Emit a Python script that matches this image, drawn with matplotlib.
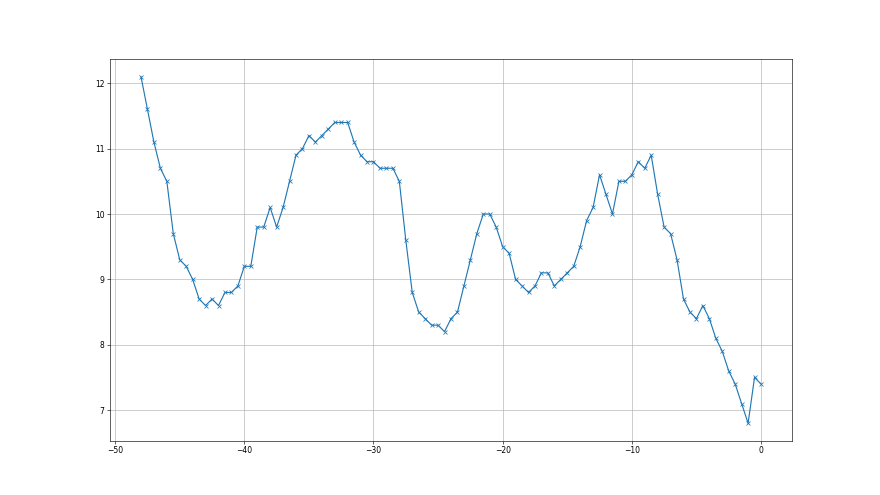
import numpy as np
import matplotlib
matplotlib.use("Agg")
import matplotlib.pyplot as plt

x_start, x_stop, x_step = -48, 0, 0.5
y_values = [
    12.1, 11.6, 11.1, 10.7, 10.5, 9.7, 9.3, 9.2, 9.0, 8.7, 8.6, 8.7, 8.6, 8.8, 8.8, 8.9, 9.2,
    9.2, 9.8, 9.8, 10.1, 9.8, 10.1, 10.5, 10.9, 11.0, 11.2, 11.1, 11.2, 11.3, 11.4, 11.4, 11.4, 11.1, 10.9, 10.8, 10.8,
    10.7, 10.7, 10.7, 10.5, 9.6, 8.8, 8.5, 8.4, 8.3, 8.3, 8.2, 8.4, 8.5, 8.9, 9.3, 9.7, 10.0, 10.0, 9.8, 9.5,
    9.4, 9.0, 8.9, 8.8, 8.9, 9.1, 9.1, 8.9, 9.0, 9.1, 9.2, 9.5, 9.9, 10.1, 10.6, 10.3, 10.0, 10.5, 10.5, 10.6,
    10.8, 10.7, 10.9, 10.3, 9.8, 9.7, 9.3, 8.7, 8.5, 8.4, 8.6, 8.4, 8.1, 7.9, 7.6, 7.4, 7.1, 6.8, 7.5, 7.4,
]
x_values = np.arange(x_start, x_stop + x_step / 2, x_step)

fig, ax = plt.subplots(figsize=(16, 9), dpi=55)
ax.plot(x_values, y_values, marker="x")
ax.grid(True)
fig.savefig("out.png", dpi=55)
